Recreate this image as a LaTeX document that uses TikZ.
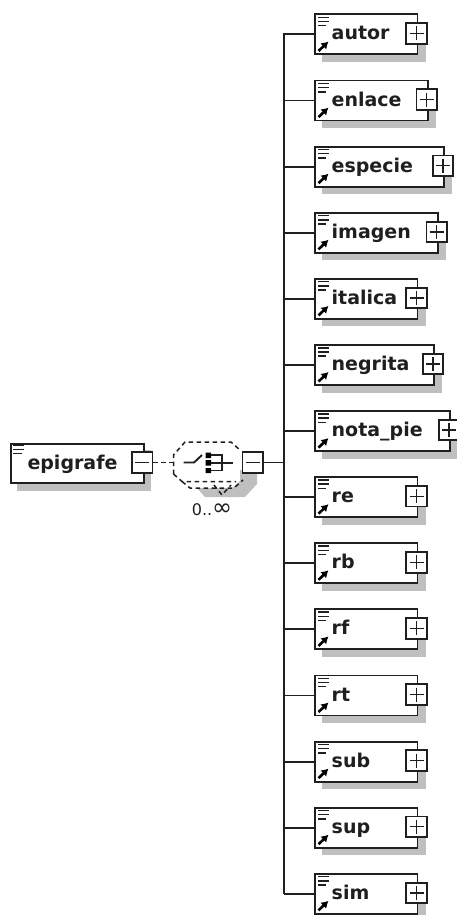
\documentclass[tikz,border=0pt]{standalone}
\usepackage{fontspec}
\usetikzlibrary{arrows.meta}
\setmainfont{DejaVu Sans}
\definecolor{ink}{gray}{0.12}
\definecolor{shade}{gray}{0.75}
\tikzset{x=1pt,y=-1pt,
 ln/.style={line width=1.9pt,draw=ink},
 dsh/.style={line width=1.5pt,draw=ink,dash pattern=on 4.5pt off 3.5pt},
 shadowfill/.style={fill=shade,draw=none},
 boxx/.style={draw=ink,line width=1.9pt,fill=white,inner sep=0pt,rectangle,anchor=north west},
 pm/.style={draw=ink,line width=1.9pt,fill=white,inner sep=0pt,rectangle,minimum width=20.5pt,minimum height=20.5pt},
 lab/.style={font=\bfseries\fontsize{19}{19}\selectfont,anchor=base west,inner sep=0pt,text=ink},
 card/.style={font=\fontsize{16}{16}\selectfont,inner sep=0pt,text=ink}}
% #1 name, #2 label, #3 centre y, #4 right x
\newcommand{\elem}[4]{%
 \fill[shadowfill] (322,#3-10) rectangle (#4+9,#3+28.5);
 \node[boxx,minimum width=#4pt-314pt,minimum height=40pt] (#1) at (314,#3-20) {};
 \draw[line width=1.5pt,draw=ink] (318,#3-16.2)--(329,#3-16.2) (318,#3-12)--(329,#3-12) (318,#3-7.8)--(326,#3-7.8);
 \draw[line width=2.6pt,draw=black,-{Latex[length=7pt,width=8.5pt]}] (318.5,#3+17.5)--(328.5,#3+8);
 \node[lab] (#1t) at (331.5,#3+6.5) {#2};
 \node[pm] (#1p) at (#4,#3) {};
 \draw[line width=1.4pt,draw=ink] (#4-7,#3)--(#4+7,#3) (#4,#3-7)--(#4,#3+7);
 \draw[ln] (trunk|-#1.west)--(#1.west);
}
\begin{document}
\begin{tikzpicture}
\useasboundingbox (0,0) rectangle (457,915);
\coordinate (trunk) at (284.3,462.5);
% root shadow and box
\fill[shadowfill] (17,450) rectangle (151,490.7);
\node[boxx,minimum width=132.7pt,minimum height=39.6pt] (root) at (10,442.8) {};
\draw[line width=1.5pt,draw=ink] (13,445.5)--(24,445.5) (13,449.5)--(24,449.5) (13,453.7)--(22,453.7);
\node[lab] (roott) at (27.3,469) {epigrafe};
% compositor shadow
\fill[shadowfill] (197,488) -- (205,497) -- (245,497) -- (257,484) -- (257,470) -- (240,470) -- (240,481) -- (232,488) -- cycle;
% compositor
\coordinate (c1) at (173.5,462.5);
\draw[dsh] (173.5,474) -- (173.5,455) -- (185,442) -- (231,442) -- (241,451);
\draw[dsh] (173.5,474) -- (182,481.5) -- (236,481.5);
\draw[dsh] (182,481.5) -- (190,488) -- (234,488) -- (243,480);
\draw[dsh] (214,485) -- (222,495) -- (231,485);
% compositor glyph
\draw[ln] (183.5,462.5) -- (194,462.5) -- (202,455);
\fill[black] (205.5,452.5) rectangle (211,458) (205.5,460) rectangle (211,465.5) (205.5,468) rectangle (211,473);
\draw[ln] (211,455.3) -- (222,455.3) -- (222,470.5) -- (211,470.5) (211,462.8) -- (233,462.8);
% minus boxes
\node[pm] (rootm) at (142.2,462.5) {};
\draw[line width=1.4pt,draw=ink] (135,462.5)--(149,462.5);
\node[pm] (seqm) at (252.7,462.5) {};
\draw[line width=1.4pt,draw=ink] (245.5,462.5)--(259.5,462.5);
\draw[dsh] (rootm.east) -- (c1);
\draw[ln] (seqm.east) -- (trunk);
\node[card] (mult) at (212,510) {0..{\fontsize{24}{16}\selectfont ∞}};
% children
\draw[ln] (284.3,32.6) -- (284.3,893.7);
\elem{a}{autor}{33.5}{416.5}
\elem{b}{enlace}{99.6}{426.7}
\elem{c}{especie}{165.7}{443}
\elem{d}{imagen}{231.8}{436.7}
\elem{e}{italica}{297.9}{416.5}
\elem{f}{negrita}{364}{433}
\elem{g}{nota\_pie}{430.1}{449}
\elem{h}{re}{496.2}{416.5}
\elem{i}{rb}{562.3}{416.5}
\elem{j}{rf}{628.4}{416.5}
\elem{k}{rt}{694.5}{416.5}
\elem{l}{sub}{760.6}{416.5}
\elem{m}{sup}{826.7}{416.5}
\elem{n}{sim}{892.8}{416.5}
\end{tikzpicture}
\end{document}
